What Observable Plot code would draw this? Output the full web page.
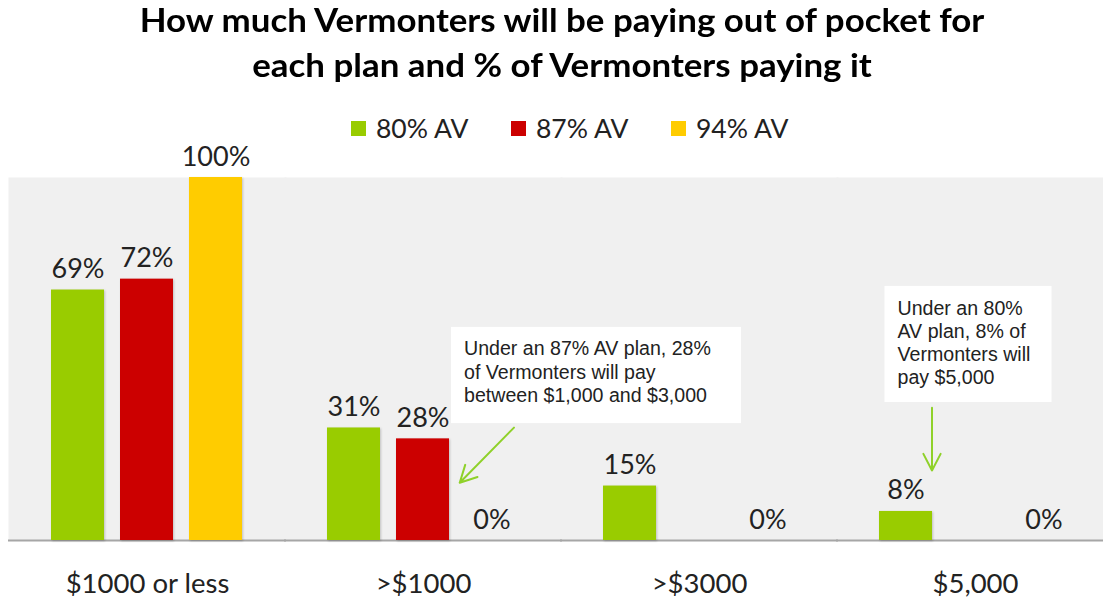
<!DOCTYPE html>
<html>
<head>
<meta charset="utf-8">
<script src="https://cdn.jsdelivr.net/npm/d3@7"></script>
<script src="https://cdn.jsdelivr.net/npm/@observablehq/plot@0.6"></script>
<style>
  html, body { margin: 0; padding: 0; background: #ffffff; }
  #wrap { position: relative; width: 1103px; height: 600px; overflow: hidden; font-family: Lato, "Open Sans", sans-serif; color: #222; }
  #title { position: absolute; left: 0; top: -3px; width: 1124px; text-align: center; font-weight: 700; font-size: 32px; line-height: 45px; color: #000; transform: scaleX(1.09); transform-origin: 562px 0; }
  #legend { position: absolute; left: 351px; top: 110px; height: 36px; display: flex; align-items: center; font-size: 26.5px; }
  #legend .item { width: 160px; display: flex; align-items: center; }
  #legend .sw { width: 15px; height: 15px; margin-right: 10px; }
  #chart { position: absolute; left: 0; top: 140px; }
  .bars rect { filter: drop-shadow(1px 1px 1px rgba(0,0,0,0.2)); }
</style>
</head>
<body>
<div id="wrap">
  <div id="title">How much Vermonters will be paying out of pocket for<br>each plan and % of Vermonters paying it</div>
  <div id="legend"></div>
  <div id="chart"></div>
</div>
<script>
// ---- data ----
const groups = ["$1000 or less", ">$1000", ">$3000", "$5,000"];
const seriesNames = ["80% AV", "87% AV", "94% AV"];
const seriesColors = ["#99cc00", "#cc0000", "#ffcc00"];
const av80 = [69, 31, 15, 8];
const av87 = [72, 28, null, null];
const av94 = [100, 0, 0, 0];

// annotation boxes (anchored to a group/series band, y extent in %)
const boxGroups = [">$1000", "$5,000"];
const boxSeries = ["94% AV", "80% AV"];
const boxLow = [32.2, 38.0];
const boxHigh = [58.7, 70.0];
const boxTexts = [
  "Under an 87% AV plan, 28%\nof Vermonters will pay\nbetween $1,000 and $3,000",
  "Under an 80%\nAV plan, 8% of\nVermonters will\npay $5,000"
];
const boxTextTop = [55.1, 66.1];

// arrows
const arrowGroups = [">$1000", "$5,000"];
const arrowFrom = ["94% AV", "80% AV"];
const arrowTo = ["87% AV", "80% AV"];
const arrowFromValue = [31.1, 36.6];
const arrowToValue = [11.8, 19.3];

// ---- tables ----
const seriesValues = [av80, av87, av94];
const data = [];
groups.forEach((g, i) => seriesNames.forEach((s, j) => {
  const v = seriesValues[j][i];
  if (v != null) data.push({group: g, series: s, value: v});
}));
const boxes = boxGroups.map((g, i) => ({group: g, series: boxSeries[i], lo: boxLow[i], hi: boxHigh[i], text: boxTexts[i], top: boxTextTop[i]}));
const arrows = arrowGroups.map((g, i) => ({group: g, s1: arrowFrom[i], s2: arrowTo[i], v1: arrowFromValue[i], v2: arrowToValue[i]}));

// legend
const legend = d3.select("#legend");
seriesNames.forEach((s, i) => {
  const it = legend.append("div").attr("class", "item");
  it.append("div").attr("class", "sw").style("background", seriesColors[i]);
  it.append("span").text(s);
});

const arrowColor = "#8fd12a";
const annFont = "'Liberation Sans', Arial, sans-serif";
const plot = Plot.plot({
  width: 1103,
  height: 460,
  marginTop: 37,
  marginBottom: 60,
  marginLeft: 8,
  marginRight: -10,
  style: {fontFamily: "Lato, 'Open Sans', sans-serif", fontSize: "27.5px", color: "#222", background: "transparent"},
  fx: {domain: groups, padding: 0, label: null, tickSize: 0, tickPadding: 33, axis: "bottom"},
  x: {domain: seriesNames, paddingInner: 0.229, paddingOuter: 0.588, axis: null},
  y: {domain: [0, 100], axis: null},
  color: {domain: seriesNames, range: seriesColors},
  marks: [
    Plot.frame({fill: "#f0f0f0", stroke: "none", insetLeft: -1, insetRight: -1}),
    Plot.ruleY([0], {stroke: "#a6a6a6", strokeWidth: 2, insetLeft: -1, insetRight: -1}),
    Plot.barY(data, {fx: "group", x: "series", y: "value", fill: "series", className: "bars"}),
    Plot.text(data, {fx: "group", x: "series", y: "value", text: d => d.value + "%", dy: -12, lineAnchor: "bottom", fontSize: 27, fill: "#222"}),
    Plot.barY(boxes.slice(0, 1), {fx: "group", x: "series", y1: "lo", y2: "hi", fill: "white", insetLeft: -14, insetRight: -223}),
    Plot.barY(boxes.slice(1), {fx: "group", x: "series", y1: "lo", y2: "hi", fill: "white", insetLeft: 5.5, insetRight: -119.5}),
    Plot.text(boxes.slice(0, 1), {fx: "group", x: "series", y: "top", text: "text", textAnchor: "start", lineAnchor: "top", dx: -28, dy: -2, fontFamily: annFont, fontSize: 19.6, lineHeight: 1.2, fill: "#222"}),
    Plot.text(boxes.slice(1), {fx: "group", x: "series", y: "top", text: "text", textAnchor: "start", lineAnchor: "top", dx: -8.5, dy: -2, fontFamily: annFont, fontSize: 19.6, lineHeight: 1.18, fill: "#222"}),
    Plot.arrow(arrows.slice(0, 1), {fx: "group", x1: "s1", y1: "v1", x2: "s2", y2: "v2", dx: 22, insetEnd: 21, stroke: arrowColor, strokeWidth: 2, headLength: 14, headAngle: 55}),
    Plot.arrow(arrows.slice(1), {fx: "group", x1: "s1", y1: "v1", x2: "s2", y2: "v2", dx: 26, stroke: arrowColor, strokeWidth: 2, headLength: 14, headAngle: 55})
  ]
});
document.getElementById("chart").appendChild(plot);
</script>
</body>
</html>
